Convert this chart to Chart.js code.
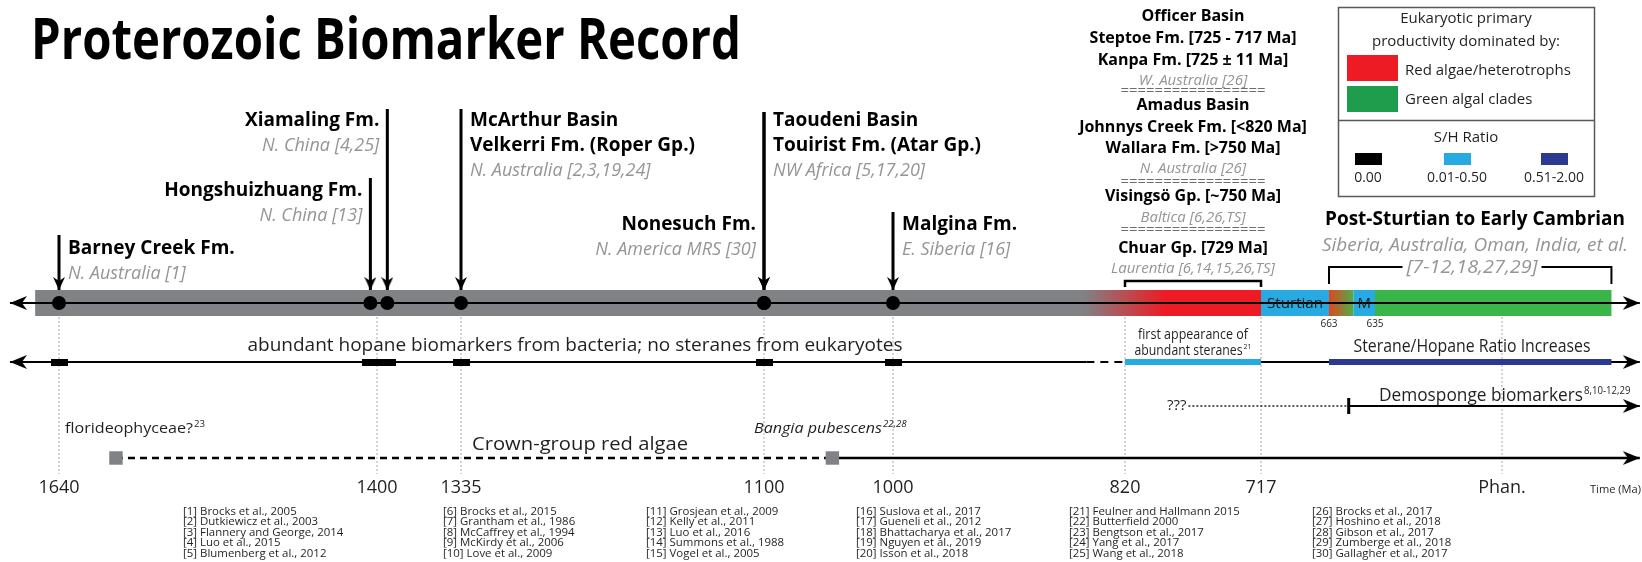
<!DOCTYPE html>
<html><head><meta charset="utf-8">
<script src="https://cdn.jsdelivr.net/npm/chart.js@4.4.1/dist/chart.umd.min.js"></script>
<style>html,body{margin:0;padding:0;background:#fff;}canvas{display:block;}</style>
</head><body>
<canvas id="c" width="1642" height="562"></canvas>
<script>
// ================= DATA =================
const TICK_VALUES_MA = [1640, 1400, 1335, 1100, 1000, 820, 717, 541];
const TICK_LABELS = ['1640', '1400', '1335', '1100', '1000', '820', '717', 'Phan.'];

const FORMATIONS = ['Barney Creek Fm.', 'Hongshuizhuang Fm.', 'Xiamaling Fm.', 'McArthur Basin', 'Taoudeni Basin', 'Nonesuch Fm.', 'Malgina Fm.'];
const FORMATION_SUBTITLES = ['', '', '', 'Velkerri Fm. (Roper Gp.)', 'Touirist Fm. (Atar Gp.)', '', ''];
const FORMATION_REGIONS = ['N. Australia [1]', 'N. China [13]', 'N. China [4,25]', 'N. Australia [2,3,19,24]', 'NW Africa [5,17,20]', 'N. America MRS [30]', 'E. Siberia [16]'];
const FORMATION_AGES_MA = [1640, 1405, 1392, 1335, 1100, 1100, 1000];

const AXIS_RANGE_MA = [1677, 439];
const BAND_START_MA = 1658;
const RED_TRANSITION_MA = [852, 790];
const GLACIATION_NAMES = ['Sturtian', 'M'];
const GLACIATION_START_MA = [717, 648];
const GLACIATION_END_MA = [663, 635];
const GLACIATION_END_LABELS = ['663', '635'];
const GREEN_END_MA = 460;

const HOPANE_SOLID_END_MA = 850;
const STERANE_FIRST_MA = [820, 717];
const SH_INCREASE_MA = [663, 460];

const DEMOSPONGE_UNCERTAIN_MA = [772, 651];
const DEMOSPONGE_START_MA = 651;

const RED_ALGAE_NAMES = ['florideophyceae?', 'Bangia pubescens'];
const RED_ALGAE_REFS = ['23', '22,28'];
const RED_ALGAE_AGES_MA = [1597, 1047];

const CHUAR_BRACKET_MA = [820, 717];
const POST_STURTIAN_BRACKET_MA = [663, 460];

const CHUAR_LINES = ['Officer Basin', 'Steptoe Fm. [725 - 717 Ma]', 'Kanpa Fm. [725 ± 11 Ma]', 'W. Australia [26]', '=================',
  'Amadus Basin', 'Johnnys Creek Fm. [<820 Ma]', 'Wallara Fm. [>750 Ma]', 'N. Australia [26]', '=================',
  'Visingsö Gp. [~750 Ma]', 'Baltica [6,26,TS]', '=================',
  'Chuar Gp. [729 Ma]', 'Laurentia [6,14,15,26,TS]'];
const CHUAR_LINE_KIND = ['b', 'b', 'b', 'g', 'eq', 'b', 'b', 'b', 'g', 'eq', 'b', 'g', 'eq', 'b', 'g'];

const LEGEND_PRODUCTIVITY = ['Red algae/heterotrophs', 'Green algal clades'];
const LEGEND_SH = ['0.00', '0.01-0.50', '0.51-2.00'];

const REFERENCES = [
  '[1] Brocks et al., 2005', '[2] Dutkiewicz et al., 2003', '[3] Flannery and George, 2014', '[4] Luo et al., 2015', '[5] Blumenberg et al., 2012',
  '[6] Brocks et al., 2015', '[7] Grantham et al., 1986', '[8] McCaffrey et al., 1994', '[9] McKirdy et al., 2006', '[10] Love et al., 2009',
  '[11] Grosjean et al., 2009', '[12] Kelly et al., 2011', '[13] Luo et al., 2016', '[14] Summons et al., 1988', '[15] Vogel et al., 2005',
  '[16] Suslova et al., 2017', '[17] Gueneli et al., 2012', '[18] Bhattacharya et al., 2017', '[19] Nguyen et al., 2019', '[20] Isson et al., 2018',
  '[21] Feulner and Hallmann 2015', '[22] Butterfield 2000', '[23] Bengtson et al., 2017', '[24] Yang et al., 2017', '[25] Wang et al., 2018',
  '[26] Brocks et al., 2017', '[27] Hoshino et al., 2018', '[28] Gibson et al., 2017', '[29] Zumberge et al., 2018', '[30] Gallagher et al., 2017'];

// ================= LAYOUT / STYLE =================
const W = 1642;
const AXIS_MA_ANCHORS = [1640, 1400, 1335, 1100, 1000, 820, 717, 663, 635, 541];
const AXIS_PX_ANCHORS = [59, 377, 461, 764, 893, 1125, 1261, 1329, 1375, 1502];
const Y = { band: 303, bandW: 26, hopane: 362, demo: 406, algae: 458, gridTop: 317, gridBottom: 474, axisTop: 477,
  chuarBracket: 281, chuarFoot: 287, postBracket: 267, postFoot: 284, bandTop: 290 };
const ARROW_TOP_Y = [235, 178, 109, 109, 112, 112, 212];
const LABEL_SIDE = ['right', 'left', 'left', 'right', 'right', 'left', 'right'];
const LABEL_Y = [247, 189, 119, 119, 119, 223, 223];
const CHUAR_LINE_Y = [15, 37, 59, 80, 91, 104, 126, 147, 168, 182, 195, 217, 230, 247, 268];
const REF_COL_X = [183, 443, 646, 856, 1069, 1312];
const C = { ink: '#231f20', gray: '#939598', band: '#808285', red: '#ed1c24', green: '#39b54a', legGreen: '#1f9d4c',
  light: '#27aae1', dark: '#2b3990', grid: '#a7a9ac', sq: '#808285', eq: '#6d6e71' };
const FAMILY = '"Open Sans", "Noto Sans", "DejaVu Sans", sans-serif';

// ================= helpers =================
function makeArrow(len, wid, notch) {
  const c = document.createElement('canvas'); c.width = len * 2; c.height = wid;
  const g = c.getContext('2d'); g.fillStyle = '#000';
  g.beginPath(); g.moveTo(len, wid / 2); g.lineTo(0, 0); g.lineTo(notch, wid / 2); g.lineTo(0, wid); g.closePath(); g.fill();
  return c;
}
function makeRect(w, h, color) {
  const c = document.createElement('canvas'); c.width = w; c.height = h;
  const g = c.getContext('2d'); g.fillStyle = color; g.fillRect(0, 0, w, h); return c;
}
const BIG_ARROW = makeArrow(17, 14, 5);
const SMALL_ARROW = makeArrow(13, 12, 4);
const SH_MARK = makeRect(17, 7, '#000');

function maToFrac(v) {
  const a = AXIS_MA_ANCHORS, p = AXIS_PX_ANCHORS; let i;
  if (v >= a[1]) i = 0; else if (v <= a[a.length - 2]) i = a.length - 2;
  else { i = 0; while (v < a[i + 1]) i++; }
  return (p[i] + (v - a[i]) * (p[i + 1] - p[i]) / (a[i + 1] - a[i])) / W;
}
function fracToMa(f) {
  const a = AXIS_MA_ANCHORS, p = AXIS_PX_ANCHORS.map(v => v / W); let i;
  if (f <= p[1]) i = 0; else if (f >= p[p.length - 2]) i = p.length - 2;
  else { i = 0; while (f > p[i + 1]) i++; }
  return a[i] + (f - p[i]) * (a[i + 1] - a[i]) / (p[i + 1] - p[i]);
}
const BaseLinear = Chart.LinearScale || (Chart.scales && Chart.scales.LinearScale) || Chart.registry.getScale('linear');
class PiecewiseTimeScale extends BaseLinear {
  getPixelForValue(v) { return this.left + maToFrac(v) * this.width; }
  getValueForPixel(px) { return fracToMa((px - this.left) / this.width); }
}
PiecewiseTimeScale.id = 'piecewiseTime';
PiecewiseTimeScale.defaults = {};
Chart.register(PiecewiseTimeScale);

// ================= datasets =================
const ds = [];
function seg(points, o) {
  ds.push(Object.assign({ type: 'scatter', showLine: true, data: points, borderColor: '#000', borderWidth: 2,
    borderCapStyle: 'butt', pointRadius: 0, tension: 0, fill: false }, o));
}
function gradient(chart, fromMa, toMa, c0, c1) {
  const xs = chart.scales && chart.scales.x;
  if (!xs) return c0;
  const x0 = xs.getPixelForValue(fromMa), x1 = xs.getPixelForValue(toMa);
  if (!isFinite(x0) || !isFinite(x1) || x0 === x1) return c0;
  const g = chart.ctx.createLinearGradient(x0, 0, x1, 0);
  g.addColorStop(0, c0); g.addColorStop(1, c1); return g;
}
// eukaryote band
seg([{ x: BAND_START_MA, y: Y.band }, { x: GLACIATION_START_MA[0], y: Y.band }],
  { borderWidth: Y.bandW, borderColor: ctx => gradient(ctx.chart, RED_TRANSITION_MA[0], RED_TRANSITION_MA[1], C.band, C.red) });
seg([{ x: GLACIATION_END_MA[0], y: Y.band }, { x: GLACIATION_START_MA[1], y: Y.band }],
  { borderWidth: Y.bandW, borderColor: ctx => gradient(ctx.chart, GLACIATION_END_MA[0], GLACIATION_START_MA[1], '#e0461f', '#4caf48') });
seg([{ x: GLACIATION_END_MA[1], y: Y.band }, { x: GREEN_END_MA, y: Y.band }], { borderWidth: Y.bandW, borderColor: C.green });
GLACIATION_NAMES.forEach((n, i) => seg([{ x: GLACIATION_START_MA[i], y: Y.band }, { x: GLACIATION_END_MA[i], y: Y.band }],
  { borderWidth: Y.bandW, borderColor: C.light }));
// vertical dotted guides
TICK_VALUES_MA.forEach(v => seg([{ x: v, y: Y.gridTop }, { x: v, y: Y.gridBottom }], { borderWidth: 1, borderColor: C.grid, borderDash: [2, 2] }));
// main timeline axis with arrows both ends
seg([{ x: AXIS_RANGE_MA[0], y: Y.band }, { x: AXIS_RANGE_MA[1], y: Y.band }],
  { borderWidth: 2, pointRadius: 6, pointStyle: BIG_ARROW, pointRotation: [180, 0] });
// hopane row
seg([{ x: AXIS_RANGE_MA[0], y: Y.hopane }, { x: HOPANE_SOLID_END_MA, y: Y.hopane }], { borderWidth: 2, pointRadius: [6, 0], pointStyle: BIG_ARROW, pointRotation: 180 });
seg([{ x: HOPANE_SOLID_END_MA, y: Y.hopane }, { x: STERANE_FIRST_MA[0], y: Y.hopane }], { borderWidth: 2, borderDash: [8, 6] });
seg([{ x: STERANE_FIRST_MA[1], y: Y.hopane }, { x: AXIS_RANGE_MA[1], y: Y.hopane }], { borderWidth: 2, pointRadius: [0, 6], pointStyle: BIG_ARROW });
seg([{ x: STERANE_FIRST_MA[0], y: Y.hopane }, { x: STERANE_FIRST_MA[1], y: Y.hopane }], { borderWidth: 6, borderColor: C.light });
seg([{ x: SH_INCREASE_MA[0], y: Y.hopane }, { x: SH_INCREASE_MA[1], y: Y.hopane }], { borderWidth: 6, borderColor: C.dark });
// S/H = 0 markers for each formation
ds.push({ type: 'scatter', data: FORMATION_AGES_MA.map(a => ({ x: a, y: Y.hopane })), pointStyle: SH_MARK, pointRadius: 4 });
// demosponge row
seg([{ x: DEMOSPONGE_UNCERTAIN_MA[0], y: Y.demo }, { x: DEMOSPONGE_UNCERTAIN_MA[1], y: Y.demo }], { borderWidth: 1.3, borderDash: [2, 2] });
seg([{ x: DEMOSPONGE_START_MA, y: Y.demo }, { x: AXIS_RANGE_MA[1], y: Y.demo }], { borderWidth: 2, pointRadius: [0, 6], pointStyle: BIG_ARROW });
seg([{ x: DEMOSPONGE_START_MA, y: Y.demo - 8 }, { x: DEMOSPONGE_START_MA, y: Y.demo + 8 }], { borderWidth: 3 });
// red algae row
seg([{ x: RED_ALGAE_AGES_MA[0], y: Y.algae }, { x: RED_ALGAE_AGES_MA[1], y: Y.algae }], { borderWidth: 2.5, borderDash: [7, 5] });
seg([{ x: RED_ALGAE_AGES_MA[1], y: Y.algae }, { x: AXIS_RANGE_MA[1], y: Y.algae }], { borderWidth: 2.5, pointRadius: [0, 6], pointStyle: BIG_ARROW });
ds.push({ type: 'scatter', data: RED_ALGAE_AGES_MA.map(a => ({ x: a, y: Y.algae })), pointStyle: 'rect', pointRadius: 9.5,
  backgroundColor: C.sq, borderWidth: 0 });
// brackets
seg([{ x: CHUAR_BRACKET_MA[0], y: Y.chuarFoot }, { x: CHUAR_BRACKET_MA[0], y: Y.chuarBracket }, { x: CHUAR_BRACKET_MA[1], y: Y.chuarBracket }, { x: CHUAR_BRACKET_MA[1], y: Y.chuarFoot }], { borderWidth: 2.5 });
seg([{ x: POST_STURTIAN_BRACKET_MA[0], y: Y.postFoot }, { x: POST_STURTIAN_BRACKET_MA[0], y: Y.postBracket }, { x: POST_STURTIAN_BRACKET_MA[1], y: Y.postBracket }, { x: POST_STURTIAN_BRACKET_MA[1], y: Y.postFoot }], { borderWidth: 2 });
// formation arrows and dots
FORMATION_AGES_MA.forEach((a, i) => seg([{ x: a, y: ARROW_TOP_Y[i] }, { x: a, y: Y.bandTop }],
  { borderWidth: 3, pointRadius: [0, 6], pointStyle: SMALL_ARROW, pointRotation: 90 }));
ds.push({ type: 'scatter', data: FORMATION_AGES_MA.map(a => ({ x: a, y: Y.band })), pointRadius: 7, backgroundColor: '#000', borderWidth: 0 });
ds.forEach((d, i) => { d.order = ds.length - i; });

// ================= text plugin =================
function put(ctx, str, x, yc, o) {
  o = o || {};
  const size = o.size || 15;
  const main = `${o.italic ? 'italic ' : ''}${o.bold ? 'bold ' : ''}${size}px ${FAMILY}`;
  const supSize = Math.round(size * 0.58);
  const supFont = `${o.italic ? 'italic ' : ''}${supSize}px ${FAMILY}`;
  ctx.save();
  ctx.font = main; ctx.textAlign = 'left'; ctx.textBaseline = 'alphabetic';
  const m = ctx.measureText(str).width;
  const sx = o.w ? o.w / m : (o.sx || 1);
  let supW = 0;
  if (o.sup) { ctx.font = supFont; supW = ctx.measureText(o.sup).width * sx + 1; ctx.font = main; }
  const total = m * sx + supW;
  const align = o.align || 'left';
  const left = align === 'left' ? x : align === 'center' ? x - total / 2 : x - total;
  if (o.bg) { ctx.fillStyle = o.bg; ctx.fillRect(left - 4, yc - size * 0.6, total + 8, size * 1.2); }
  ctx.fillStyle = o.color || C.ink;
  ctx.translate(left, yc + 0.36 * size); ctx.scale(sx, 1);
  ctx.fillText(str, 0, 0);
  if (o.sup) { ctx.font = supFont; ctx.fillText(o.sup, m + 1 / sx, -0.42 * size); }
  ctx.restore();
}
const textPlugin = {
  id: 'annotText',
  afterDatasetsDraw(chart) {
    const ctx = chart.ctx, xs = chart.scales.x;
    const X = ma => xs.getPixelForValue(ma);
    put(ctx, 'Proterozoic Biomarker Record', 31, 38, { size: 58, bold: true, w: 710, color: '#000' });
    FORMATIONS.forEach((name, i) => {
      const ax = X(FORMATION_AGES_MA[i]);
      const side = LABEL_SIDE[i];
      const x = side === 'right' ? ax + 9 : ax - 8;
      const align = side === 'right' ? 'left' : 'right';
      let y = LABEL_Y[i];
      put(ctx, name, x, y, { size: 19, bold: true, align, color: '#000' });
      if (FORMATION_SUBTITLES[i]) { y += 25; put(ctx, FORMATION_SUBTITLES[i], x, y, { size: 19, bold: true, align, color: '#000' }); }
      y += 26;
      put(ctx, FORMATION_REGIONS[i], x, y, { size: 18, italic: true, align, color: C.gray });
    });
    const cx = (X(CHUAR_BRACKET_MA[0]) + X(CHUAR_BRACKET_MA[1])) / 2;
    CHUAR_LINES.forEach((t, i) => {
      const k = CHUAR_LINE_KIND[i], cy = CHUAR_LINE_Y[i];
      if (k === 'b') put(ctx, t, cx, cy, { size: 16, bold: true, align: 'center', color: '#000' });
      else if (k === 'g') put(ctx, t, cx, cy, { size: 15, italic: true, align: 'center', color: C.gray });
      else put(ctx, t, cx, cy - 1, { size: 14, align: 'center', color: C.eq, w: 145 });
    });
    ctx.save();
    ctx.strokeStyle = '#58595b'; ctx.lineWidth = 1.5;
    ctx.strokeRect(1338.5, 7.5, 256, 189);
    ctx.beginPath(); ctx.moveTo(1338.5, 120.5); ctx.lineTo(1594.5, 120.5); ctx.stroke();
    ctx.fillStyle = C.red; ctx.fillRect(1347, 55, 51, 26);
    ctx.fillStyle = C.legGreen; ctx.fillRect(1347, 86, 51, 26);
    const shCols = ['#000', C.light, C.dark], shX = [1368, 1457, 1554];
    shCols.forEach((c, i) => { ctx.fillStyle = c; ctx.fillRect(shX[i] - 13, 153, 27, 12); });
    ctx.restore();
    put(ctx, 'Eukaryotic primary', 1466, 18, { size: 15, align: 'center' });
    put(ctx, 'productivity dominated by:', 1466, 41, { size: 15, align: 'center' });
    put(ctx, LEGEND_PRODUCTIVITY[0], 1405, 70, { size: 15 });
    put(ctx, LEGEND_PRODUCTIVITY[1], 1405, 99, { size: 15 });
    put(ctx, 'S/H Ratio', 1466, 137, { size: 15, align: 'center' });
    LEGEND_SH.forEach((t, i) => put(ctx, t, shX[i], 177, { size: 14, align: 'center' }));
    put(ctx, 'Post-Sturtian to Early Cambrian', 1475, 218, { size: 19, bold: true, align: 'center', color: '#000', w: 300 });
    put(ctx, 'Siberia, Australia, Oman, India, et al.', 1475, 245, { size: 18, italic: true, align: 'center', color: C.gray, w: 306 });
    put(ctx, '[7-12,18,27,29]', 1472, Y.postBracket, { size: 18, italic: true, align: 'center', color: C.gray, w: 131, bg: '#fff' });
    GLACIATION_NAMES.forEach((n, i) => {
      const mx = (X(GLACIATION_START_MA[i]) + X(GLACIATION_END_MA[i])) / 2;
      put(ctx, n, mx, Y.band, { size: 15, align: 'center', color: '#1d1d1b', w: i === 0 ? 56 : null });
      put(ctx, GLACIATION_END_LABELS[i], X(GLACIATION_END_MA[i]), 323, { size: 10, align: 'center' });
    });
    put(ctx, 'abundant hopane biomarkers from bacteria; no steranes from eukaryotes', 575, 344, { size: 19, w: 655, align: 'center' });
    const sx0 = (X(STERANE_FIRST_MA[0]) + X(STERANE_FIRST_MA[1])) / 2;
    put(ctx, 'first appearance of', sx0, 334, { size: 14, align: 'center', w: 110 });
    put(ctx, 'abundant steranes', sx0, 350, { size: 14, align: 'center', sup: '21', w: 108 });
    put(ctx, 'Sterane/Hopane Ratio Increases', 1472, 346, { size: 18, align: 'center', w: 237 });
    put(ctx, 'Demosponge biomarkers', 1379, Y.demo - 11, { size: 18, w: 204, sup: '8,10-12,29' });
    put(ctx, '???', X(DEMOSPONGE_UNCERTAIN_MA[0]) - 2, Y.demo - 1, { size: 15, align: 'right' });
    put(ctx, RED_ALGAE_NAMES[0], 65, 428, { size: 15, sup: RED_ALGAE_REFS[0], w: 128 });
    put(ctx, RED_ALGAE_NAMES[1], 754, 428, { size: 15, italic: true, sup: RED_ALGAE_REFS[1], w: 128 });
    put(ctx, 'Crown-group red algae', 580, 443, { size: 19, align: 'center', w: 216 });
    put(ctx, 'Time (Ma)', 1641, 489, { size: 11, align: 'right', w: 51 });
    REFERENCES.forEach((r, i) => {
      const col = Math.floor(i / 5), row = i % 5;
      put(ctx, r, REF_COL_X[col], 511 + row * 10.4, { size: 11, sx: 1.04 });
    });
  }
};

// ================= chart =================
const chart = new Chart(document.getElementById('c'), {
  type: 'scatter',
  data: { datasets: ds },
  options: {
    responsive: false, animation: false, devicePixelRatio: 1, events: [],
    layout: { padding: 0, autoPadding: false },
    plugins: { legend: { display: false }, tooltip: { enabled: false }, title: { display: false } },
    scales: {
      x: {
        type: 'piecewiseTime', position: 'bottom', min: AXIS_RANGE_MA[1], max: AXIS_RANGE_MA[0],
        grid: { display: false, drawTicks: false }, border: { display: false },
        afterBuildTicks: s => { s.ticks = TICK_VALUES_MA.map(v => ({ value: v })); },
        afterFit: s => { s.height = 562 - Y.axisTop; },
        ticks: { autoSkip: false, maxRotation: 0, minRotation: 0, padding: 0, color: C.ink,
          font: { family: FAMILY, size: 18 }, callback: (v, i) => TICK_LABELS[i] }
      },
      y: { type: 'linear', min: 0, max: Y.axisTop, reverse: true, display: false }
    }
  },
  plugins: [textPlugin]
});
chart.update();
</script>
</body></html>
